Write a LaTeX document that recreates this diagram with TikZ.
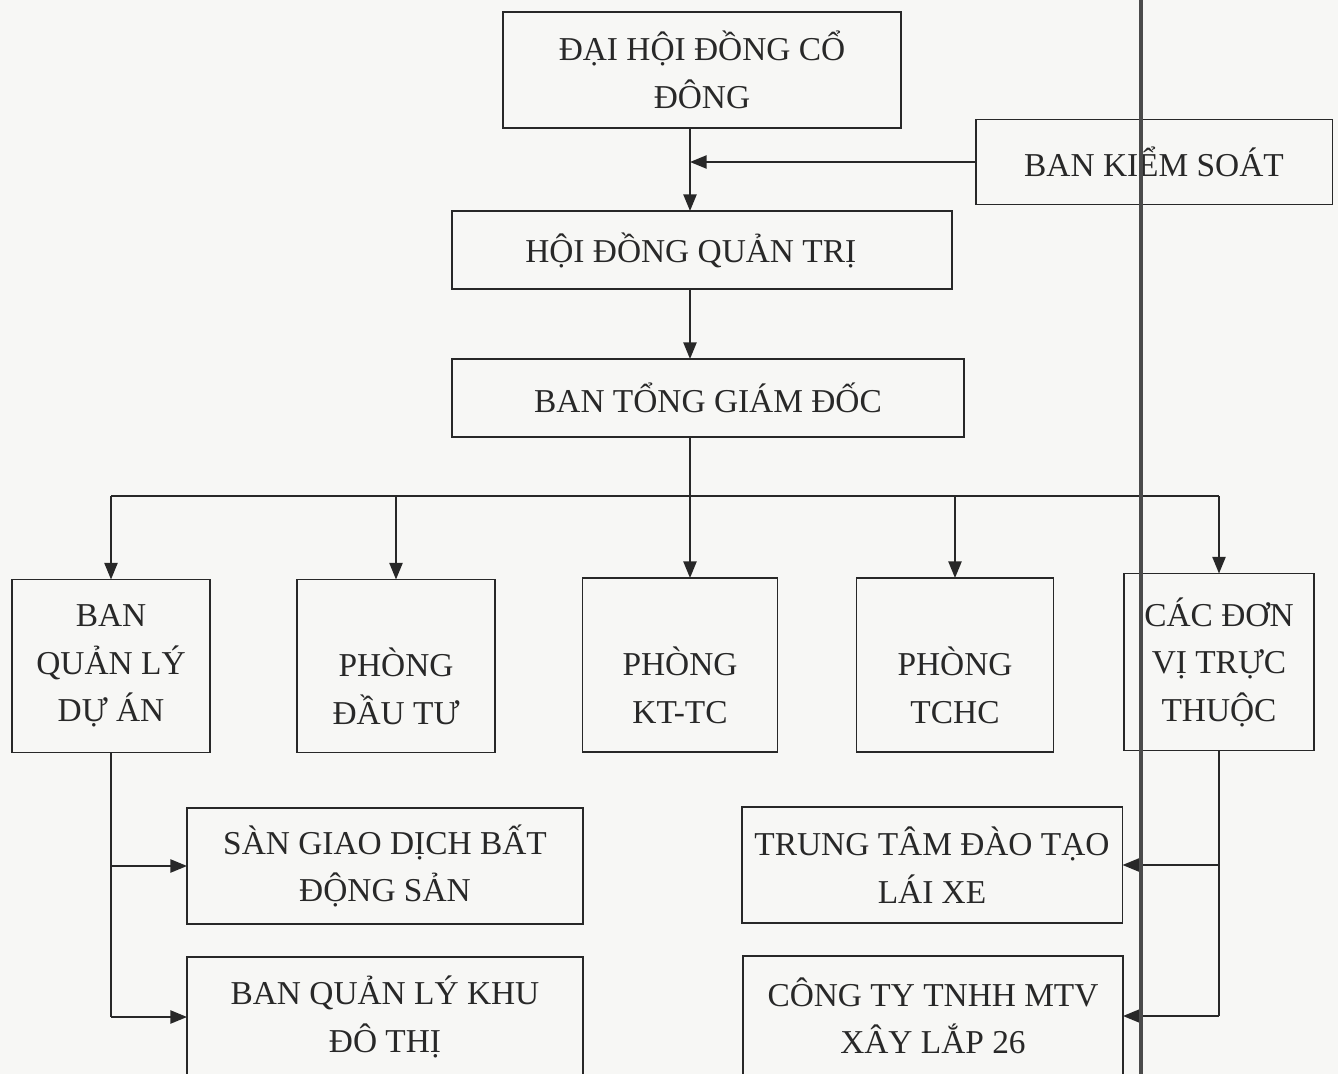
\documentclass[tikz,border=0pt]{standalone}
\usepackage{fontspec}
\setmainfont{Liberation Serif}
\usepackage{xcolor}
\usepackage{tikz}
\usetikzlibrary{arrows,arrows.meta,positioning,calc}

\definecolor{paper}{RGB}{247,247,245}
\definecolor{ink}{RGB}{40,40,40}
\definecolor{fold}{RGB}{75,75,75}

\begin{document}
\begin{tikzpicture}[x=0.02cm,y=-0.02cm,every node/.style={outer sep=0pt,thick}]
\tikzstyle{unit}=[draw=ink,line width=1.1pt,text=ink,inner sep=0pt,align=center,
font=\fontsize{19}{27}\selectfont]
\tikzstyle{link}=[draw=ink,line width=1.1pt]
\tikzstyle{arr}=[link,-{Triangle[length=9.5pt,width=7.5pt]}]
\fill[paper] (0,0) rectangle (1338,1074);
\useasboundingbox (0,0) rectangle (1338,1074);
\clip (0,0) rectangle (1338,1074);
% top levels
\node (dhdcd) [unit,minimum width=7.96cm,minimum height=2.32cm] at (702,70) {ĐẠI HỘI ĐỒNG CỔ\\ĐÔNG};
\node (bks) [unit,minimum width=7.14cm,minimum height=1.7cm] at (1154,162) {BAN KIỂM SOÁT};
\node (hdqt) [unit,minimum width=10cm,minimum height=1.56cm] at (702,250) {HỘI ĐỒNG QUẢN TRỊ\hspace*{0.45cm}};
\node (btgd) [unit,minimum width=10.26cm,minimum height=1.56cm] at (708,398) {BAN TỔNG GIÁM ĐỐC};
% departments
\node (bqlda) [unit,minimum width=3.96cm,minimum height=3.46cm] at (111,666) {BAN\\QUẢN LÝ\\DỰ ÁN};
\node (pdt) [unit,minimum width=3.96cm,minimum height=3.46cm] at (396,666) {\rule{0pt}{12.5pt}\\PHÒNG\\ĐẦU TƯ};
\node (kttc) [unit,minimum width=3.9cm,minimum height=3.48cm] at (680,665) {\rule{0pt}{12.5pt}\\PHÒNG\\KT-TC};
\node (tchc) [unit,minimum width=3.94cm,minimum height=3.48cm] at (955,665) {\rule{0pt}{12.5pt}\\PHÒNG\\TCHC};
\node (cdv) [unit,minimum width=3.8cm,minimum height=3.54cm] at (1219,662) {CÁC ĐƠN\\VỊ TRỰC\\THUỘC};
% lower units
\node (sgd) [unit,minimum width=7.92cm,minimum height=2.32cm] at (385,866) {SÀN GIAO DỊCH BẤT\\ĐỘNG SẢN};
\node (bqlk) [unit,minimum width=7.92cm,minimum height=2.4cm] at (385,1017) {BAN QUẢN LÝ KHU\\ĐÔ THỊ};
\node (ttdt) [unit,minimum width=7.62cm,minimum height=2.32cm] at (932,865) {TRUNG TÂM ĐÀO TẠO\\LÁI XE};
\node (cty) [unit,minimum width=7.6cm,minimum height=2.4cm] at (933,1016) {CÔNG TY TNHH MTV\\XÂY LẮP 26};
\coordinate (spine) at (690,0);
\coordinate (bus) at (690,496);
% connectors
\draw [arr] (spine |- dhdcd.south) -- (spine |- hdqt.north);
\draw [arr] (bks.west) -- (bks.west -| spine);
\draw [arr] (spine |- hdqt.south) -- (spine |- btgd.north);
\draw [link] (spine |- btgd.south) -- (bus);
\draw [link] (bqlda.north |- bus) -- (cdv.north |- bus);
\draw [arr] (bqlda.north |- bus) -- (bqlda.north);
\draw [arr] (pdt.north |- bus) -- (pdt.north);
\draw [arr] (bus) -- (spine |- kttc.north);
\draw [arr] (tchc.north |- bus) -- (tchc.north);
\draw [arr] (cdv.north |- bus) -- (cdv.north);
\draw [link] (bqlda.south) -- (bqlda.south |- bqlk.west);
\draw [arr] (bqlda.south |- sgd.west) -- (sgd.west);
\draw [arr] (bqlda.south |- bqlk.west) -- (bqlk.west);
\draw [link] (cdv.south) -- (cdv.south |- cty.east);
\draw [arr] (cdv.south |- ttdt.east) -- (ttdt.east);
\draw [arr] (cdv.south |- cty.east) -- (cty.east);
% fold of the page
\draw [fold,line width=2.6pt] (1141,0) -- (1141,1074);
\end{tikzpicture}
\end{document}
